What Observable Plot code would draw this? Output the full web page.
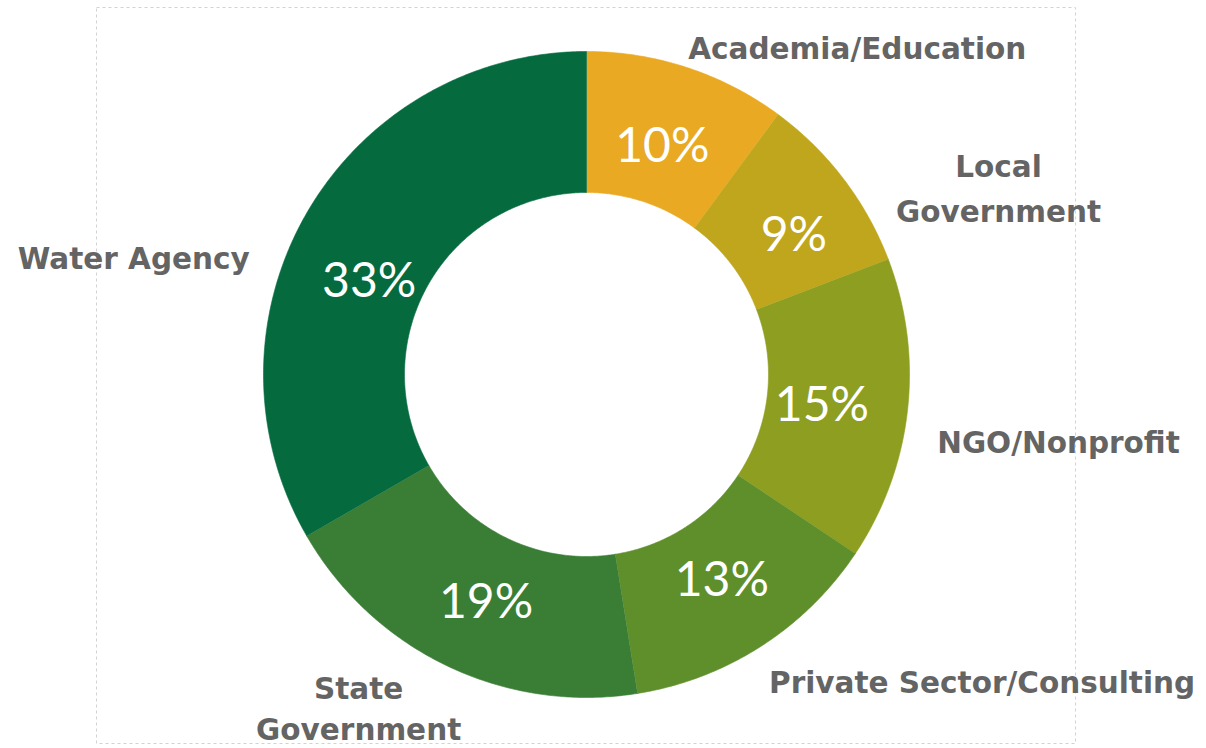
<!DOCTYPE html>
<html>
<head>
<meta charset="utf-8">
<script src="https://cdn.jsdelivr.net/npm/d3@7"></script>
<script src="https://cdn.jsdelivr.net/npm/@observablehq/plot@0.6"></script>
<style>
  html, body { margin: 0; padding: 0; background: #fff; }
  #chart svg { display: block; }
</style>
</head>
<body>
<div id="chart"></div>
<script>
// ---- data ----
const categories = ["Academia/Education", "Local Government", "NGO/Nonprofit", "Private Sector/Consulting", "State Government", "Water Agency"];
const labels = ["Academia/Education", "Local\nGovernment", "NGO/Nonprofit", "Private Sector/Consulting", "State\nGovernment", "Water Agency"];
const values = [10, 9, 15, 13, 19, 33];
const colors = ["#e9a922", "#c0a61d", "#8d9e20", "#5f8f2a", "#3a7d35", "#056b3f"];

// ---- layout / style ----
const W = 1206, H = 748;
const frame = {left: 96, right: 1075, top: 7, bottom: 743};
const cx = 586, cy = 374, R = 323;   // pixel centre and outer radius
const innerRatio = 182 / 323;
const pctRadius = 0.752;
// label offsets (px) from the outer-edge point at each slice's mid angle
const labelOffsets = [[170, -23], [155, 6], [151, 29], [221, 33], [-89, 40], [-173, 42]];
const lineHeights = [1.5, 1.55, 1.5, 1.5, 1.42, 1.5];
// small nudges (px) for the percentage labels
const pctOffsets = [[0, 3], [14, 8], [-6, 4], [4, 2], [4, 9], [-7, 29]];

// ---- derived geometry (unit circle coordinates) ----
const pie = d3.pie().sort(null).value(d => d)(values);
const polys = [];
pie.forEach((p, i) => {
  const a0 = p.startAngle, a1 = p.endAngle;
  const n = Math.max(8, Math.ceil((a1 - a0) / (Math.PI / 360)));
  for (let k = 0; k <= n; k++) {
    const a = a0 + (a1 - a0) * k / n;
    polys.push({name: categories[i], x: Math.sin(a), y: Math.cos(a)});
  }
  for (let k = n; k >= 0; k--) {
    const a = a0 + (a1 - a0) * k / n;
    polys.push({name: categories[i], x: innerRatio * Math.sin(a), y: innerRatio * Math.cos(a)});
  }
});
const mids = pie.map((p, i) => {
  const a = (p.startAngle + p.endAngle) / 2;
  return {name: categories[i], label: labels[i], pct: values[i] + "%", sin: Math.sin(a), cos: Math.cos(a)};
});

const xDomain = [(frame.left - cx) / R, (frame.right - cx) / R];
const yDomain = [(cy - frame.bottom) / R, (cy - frame.top) / R];

const textMarks = mids.map((m, i) => Plot.text([m], {
  x: d => d.sin, y: d => d.cos, text: "label",
  dx: labelOffsets[i][0], dy: labelOffsets[i][1], fill: "#646464", fontSize: 29.5, fontWeight: 700,
  fontFamily: "DejaVu Sans", textAnchor: "middle", lineHeight: lineHeights[i], lineAnchor: "middle"
}));
const pctMarks = mids.map((m, i) => Plot.text([m], {
  x: d => pctRadius * d.sin, y: d => pctRadius * d.cos, text: "pct",
  dx: pctOffsets[i][0], dy: pctOffsets[i][1],
  fill: "#ffffff", fontSize: 48, fontFamily: "Lato", fontWeight: 400, textAnchor: "middle", lineAnchor: "middle"
}));

const chart = Plot.plot({
  width: W, height: H,
  marginLeft: frame.left, marginRight: W - frame.right,
  marginTop: frame.top, marginBottom: H - frame.bottom,
  x: {domain: xDomain, axis: null},
  y: {domain: yDomain, axis: null},
  color: {domain: categories, range: colors},
  style: {background: "#fff", overflow: "visible"},
  marks: [
    Plot.frame({stroke: "#d2d2d2", strokeDasharray: "3,3", strokeWidth: 1}),
    Plot.line(polys, {x: "x", y: "y", z: "name", fill: "name", stroke: "name", strokeWidth: 0.6, curve: "linear"}),
    ...pctMarks,
    ...textMarks
  ]
});
document.getElementById("chart").appendChild(chart);
</script>
</body>
</html>
